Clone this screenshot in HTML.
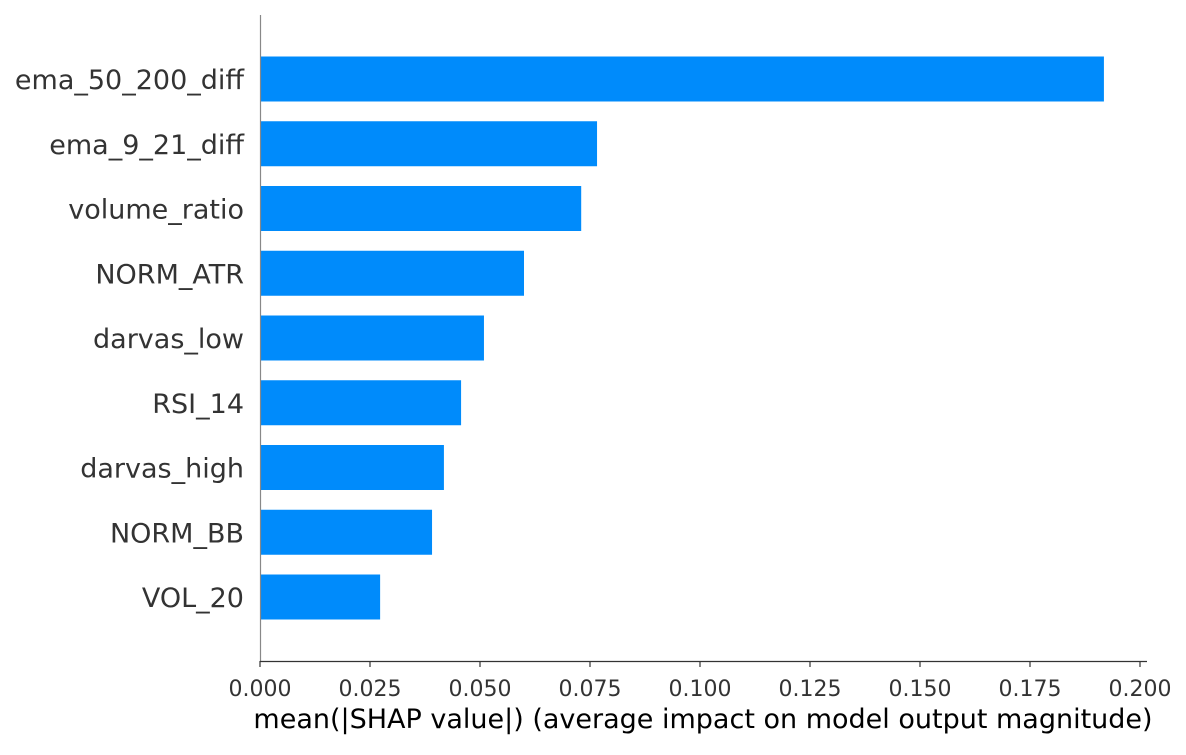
<!DOCTYPE html>
<html><head><meta charset="utf-8"><style>
body{margin:0;background:#fff;}
svg text{font-family:"DejaVu Sans","Liberation Sans",sans-serif;}
</style></head><body>
<svg id="chart" width="1186" height="750" xmlns="http://www.w3.org/2000/svg"></svg>
<script>
const features = ["ema_50_200_diff","ema_9_21_diff","volume_ratio","NORM_ATR","darvas_low","RSI_14","darvas_high","NORM_BB","VOL_20"];
const values = [0.1918,0.0766,0.0730,0.0600,0.0509,0.0457,0.0418,0.0391,0.0273];
const ticks = [0,0.025,0.05,0.075,0.1,0.125,0.15,0.175,0.2];
const tickLabels = ["0.000","0.025","0.050","0.075","0.100","0.125","0.150","0.175","0.200"];

const svg = document.getElementById('chart');
const NS = 'http://www.w3.org/2000/svg';
const x0 = 260, pxPerUnit = 4400;
const xScale = v => x0 + v * pxPerUnit;
const yTop = 79, yStep = 64.75, barH = 45;
const yScale = i => yTop + i * yStep;
function mk(tag, attrs){const e=document.createElementNS(NS,tag);for(const k in attrs)e.setAttribute(k,attrs[k]);svg.appendChild(e);return e;}

features.forEach((f,i)=>{
  const r = mk('rect',{x:x0,y:yScale(i)-barH/2,width:xScale(values[i])-x0,height:barH,fill:'#008bfb'});
  
  
  const t = mk('text',{x:244,y:yScale(i)+10,'text-anchor':'end','font-size':'27',fill:'#333'});
  t.textContent = f;
  
  
});

const ls = mk('line',{x1:x0+0.5,y1:15,x2:x0+0.5,y2:661,stroke:'#888','stroke-width':1.2});


const bs = mk('line',{x1:x0,y1:661.5,x2:1147,y2:661.5,stroke:'#333','stroke-width':1.2});



ticks.forEach((v,i)=>{
  const tl = mk('line',{x1:xScale(v),y1:661,x2:xScale(v),y2:667,stroke:'#333','stroke-width':1.2});
  
  
  const tt = mk('text',{x:xScale(v),y:696,'text-anchor':'middle','font-size':'22',fill:'#333'});
  tt.textContent = tickLabels[i];
  
  
});

const xl = mk('text',{x:703,y:728,'text-anchor':'middle','font-size':'27',fill:'#000'});
xl.textContent = 'mean(|SHAP value|) (average impact on model output magnitude)';


</script>
</body></html>
